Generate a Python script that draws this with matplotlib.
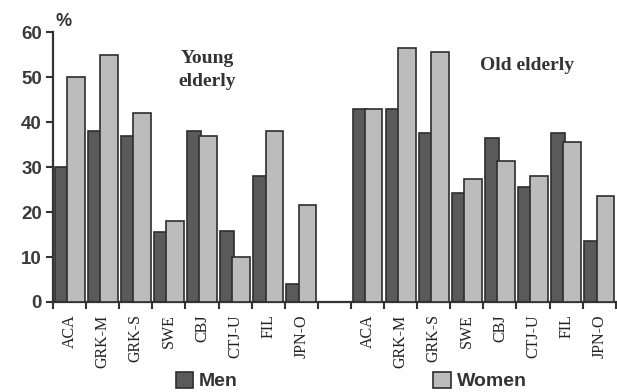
import matplotlib
matplotlib.use("Agg")
import matplotlib.pyplot as plt
from matplotlib.patches import Patch
import numpy as np

countries = ["ACA", "GRK-M", "GRK-S", "SWE", "CBJ", "CTJ-U", "FIL", "JPN-O"]
young_men = [30, 38, 37, 15.5, 38, 15.7, 28, 4]
young_women = [50, 55, 42, 18, 37, 10, 38, 21.5]
old_men = [43, 43, 37.5, 24.3, 36.5, 25.5, 37.5, 13.5]
old_women = [43, 56.5, 55.5, 27.3, 31.4, 28.1, 35.5, 23.5]
yticks = [0, 10, 20, 30, 40, 50, 60]

men_color = "#5a5a5a"
women_color = "#bcbcbc"
edge = "#2e2e2e"

fig = plt.figure(figsize=(6.17, 3.92), dpi=100)
ax = fig.add_axes([0.086, 0.2296, 0.912, 0.6886])

n = len(countries)
slots_young = np.arange(n)
slots_old = np.arange(n) + n + 1
men_vals = young_men + old_men
women_vals = young_women + old_women
slots = np.concatenate([slots_young, slots_old])

ax.bar(slots + 0.05, men_vals, width=0.42, align="edge", color=men_color,
       edgecolor=edge, linewidth=1.2, zorder=2)
ax.bar(slots + 0.42, women_vals, width=0.53, align="edge", color=women_color,
       edgecolor=edge, linewidth=1.2, zorder=3)

ax.set_xlim(0, 2 * n + 1)
ax.set_ylim(0, 60)
ax.set_yticks(yticks)
ax.set_yticklabels([str(v) for v in yticks], fontsize=13.5, fontweight="bold",
                   color="#3a3a3a", family="Liberation Sans")
ax.set_xticks(np.arange(0, 2 * n + 2))
ax.set_xticklabels([])
ax.set_xticks(slots + 0.5, minor=True)
ax.set_xticklabels(countries + countries, minor=True, rotation=90,
                   fontsize=11.5, family="Liberation Serif", color="#222222")
ax.tick_params(axis="x", which="minor", length=0, pad=9)
ax.tick_params(axis="x", which="major", length=5, width=1.5, color="#333333", direction="out")
ax.tick_params(axis="y", length=5, width=1.5, color="#333333", direction="out", pad=3)

for s in ["top", "right"]:
    ax.spines[s].set_visible(False)
for s in ["left", "bottom"]:
    ax.spines[s].set_color("#333333")
    ax.spines[s].set_linewidth(1.6)

fig.text(55 / 617, 1 - 22 / 392, "%", fontsize=13, fontweight="bold",
         family="Liberation Sans", color="#333333", ha="left", va="center")
fig.text(207 / 617, 1 - 70 / 392, "Young\nelderly", fontsize=14, fontweight="bold",
         family="Liberation Serif", color="#333333", ha="center", va="center",
         linespacing=1.45)
fig.text(527 / 617, 1 - 65 / 392, "Old elderly", fontsize=14, fontweight="bold",
         family="Liberation Serif", color="#333333", ha="center", va="center")

h_men = Patch(facecolor=men_color, edgecolor=edge, linewidth=1.2)
h_women = Patch(facecolor=women_color, edgecolor=edge, linewidth=1.2)
leg1 = fig.legend([h_men], ["Men"], loc="center", bbox_to_anchor=(207 / 617, 1 - 381 / 392),
                  frameon=False, prop={"size": 14, "weight": "bold", "family": "Liberation Sans"},
                  handlelength=0.9, handleheight=0.9, handletextpad=0.3, borderpad=0)
leg2 = fig.legend([h_women], ["Women"], loc="center", bbox_to_anchor=(480 / 617, 1 - 381 / 392),
                  frameon=False, prop={"size": 14, "weight": "bold", "family": "Liberation Sans"},
                  handlelength=0.9, handleheight=0.9, handletextpad=0.3, borderpad=0)
for lg in (leg1, leg2):
    for t in lg.get_texts():
        t.set_color("#333333")

fig.savefig("out.png", dpi=100, facecolor="white")
